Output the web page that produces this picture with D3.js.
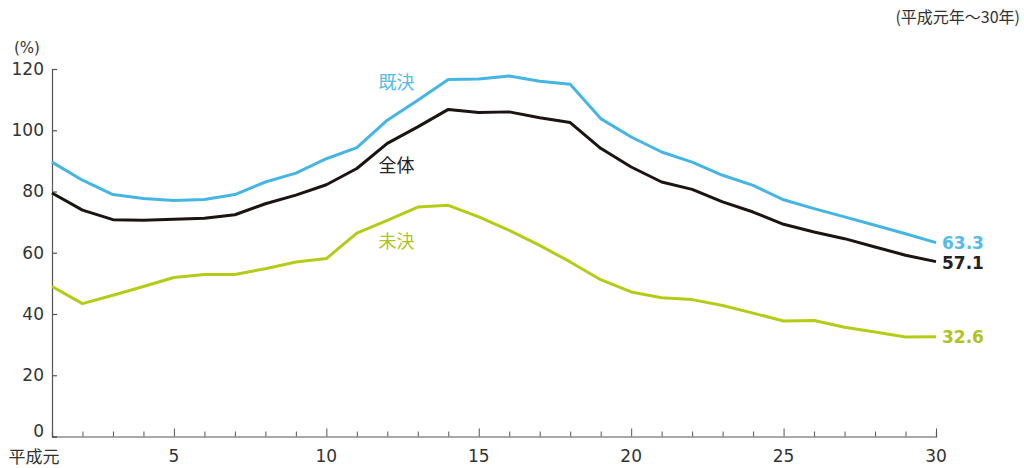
<!DOCTYPE html>
<html lang="ja">
<head>
<meta charset="utf-8">
<script src="https://cdn.jsdelivr.net/npm/d3@7"></script>
<style>
  html, body { margin: 0; padding: 0; background: #fff; }
  svg { display: block; font-family: "DejaVu Sans", "Noto Sans CJK JP", sans-serif; }
  .jp { font-family: "Noto Sans CJK JP", "Noto Sans", sans-serif; }
</style>
</head>
<body>
<svg id="chart" width="1024" height="468"></svg>
<script>
// 平成元年～30年
const years = d3.range(1, 31);
const yTicks = [0, 20, 40, 60, 80, 100, 120];
const xMajorTicks = [1, 5, 10, 15, 20, 25, 30];
const xTickLabels = ["平成元", "5", "10", "15", "20", "25", "30"];

// 既決
const kiketsu = [89.6, 83.7, 79.0, 77.7, 77.1, 77.4, 79.0, 83.1, 86.0, 90.7,
                 94.3, 103.3, 109.8, 116.6, 116.7, 117.7, 116.0, 115.0, 103.8, 97.8,
                 92.9, 89.6, 85.3, 82.0, 77.3, 74.4, 71.7, 69.0, 66.2, 63.3];
// 全体
const zentai = [79.5, 73.9, 70.8, 70.6, 70.9, 71.3, 72.4, 76.0, 78.8, 82.2,
                87.5, 95.7, 101.1, 106.8, 105.8, 106.0, 104.1, 102.5, 94.1, 88.0,
                83.1, 80.7, 76.6, 73.3, 69.3, 66.8, 64.6, 61.9, 59.2, 57.1];
// 未決
const miketsu = [49.0, 43.4, 46.1, 49.0, 51.9, 52.9, 52.9, 54.8, 57.0, 58.1,
                 66.4, 70.6, 74.9, 75.5, 71.7, 67.3, 62.4, 57.0, 51.2, 47.2,
                 45.3, 44.7, 42.8, 40.3, 37.7, 37.9, 35.7, 34.1, 32.5, 32.6];

const seriesNames = ["既決", "全体", "未決"];
const seriesValues = [kiketsu, zentai, miketsu];
const lineColors = ["#45b5e3", "#1c1413", "#b3cd17"];
const textColors = ["#56bbe6", "#262020", "#b0c41e"];
// where each series name sits: [year, value]
const nameAnchors = [[12.3, 115.5], [12.3, 88.5], [12.3, 63.5]];

const svg = d3.select("#chart");
const x = d3.scaleLinear().domain([1, 30]).range([52, 936]);
const y = d3.scaleLinear().domain([0, 120]).range([436.5, 69]);

const axisColor = "#555";
const labelColor = "#333";

// y axis
const yAxis = svg.append("g").attr("transform", `translate(${x(1)},0)`)
  .call(d3.axisRight(y).tickValues(yTicks).tickSize(5).tickFormat(""));
yAxis.select(".domain").attr("stroke", axisColor).attr("stroke-width", 1.2);
yAxis.selectAll(".tick line").attr("stroke", axisColor).attr("stroke-width", 1.2);

svg.append("g").selectAll("text").data(yTicks).join("text")
  .attr("x", 44).attr("y", d => y(d) - (d === 0 ? 5 : 0))
  .attr("dy", "0.35em")
  .attr("text-anchor", "end")
  .attr("font-size", 17).attr("fill", labelColor)
  .text(d => d);

svg.append("text").attr("x", 27).attr("y", 48)
  .attr("dy", "0.35em")
  .attr("text-anchor", "middle").attr("font-size", 15).attr("fill", labelColor)
  .text("(%)");

// x axis: minor ticks every year, longer ticks at labelled years
const xAxis = svg.append("g").attr("transform", `translate(0,${y(0)})`)
  .call(d3.axisTop(x).tickValues(years.slice(1)).tickSize(5).tickFormat(""));
xAxis.select(".domain").attr("stroke", axisColor).attr("stroke-width", 1.2);
xAxis.selectAll(".tick line")
  .attr("stroke", axisColor).attr("stroke-width", 1)
  .attr("y2", d => (d % 5 === 0 ? -8 : -5));

svg.append("g").selectAll("text").data(xMajorTicks).join("text")
  .attr("class", (d, i) => (i === 0 ? "jp" : null))
  .attr("x", (d, i) => (i === 0 ? 34 : x(d)))
  .attr("y", (d, i) => (i === 0 ? 457 : 456))
  .attr("dy", "0.35em")
  .attr("text-anchor", "middle")
  .attr("font-size", 17).attr("fill", labelColor)
  .text((d, i) => xTickLabels[i]);

svg.append("text").attr("class", "jp").attr("x", 1020).attr("y", 17)
  .attr("dy", "0.35em")
  .attr("text-anchor", "end").attr("font-size", 16).attr("fill", labelColor)
  .text("(平成元年～30年)");

// lines
const line = d3.line().x((d, i) => x(years[i])).y(d => y(d));
svg.append("g").selectAll("path").data(seriesValues).join("path")
  .attr("d", line)
  .attr("fill", "none")
  .attr("stroke", (d, i) => lineColors[i])
  .attr("stroke-width", 3)
  .attr("stroke-linejoin", "round");

// series names
svg.append("g").selectAll("text").data(seriesNames).join("text")
  .attr("class", "jp")
  .attr("x", (d, i) => x(nameAnchors[i][0]))
  .attr("y", (d, i) => y(nameAnchors[i][1]))
  .attr("dy", "0.35em")
  .attr("text-anchor", "middle")
  .attr("font-size", 18)
  .attr("fill", (d, i) => textColors[i])
  .text(d => d);

// final values
const endOffsets = [0, 1, 0];
svg.append("g").selectAll("text").data(seriesValues).join("text")
  .attr("x", x(30) + 6)
  .attr("y", (d, i) => y(d[d.length - 1]) + endOffsets[i])
  .attr("dy", "0.35em")
  .attr("font-size", 17).attr("font-weight", "bold")
  .attr("fill", (d, i) => textColors[i])
  .text(d => d3.format(".1f")(d[d.length - 1]));
</script>
</body>
</html>
